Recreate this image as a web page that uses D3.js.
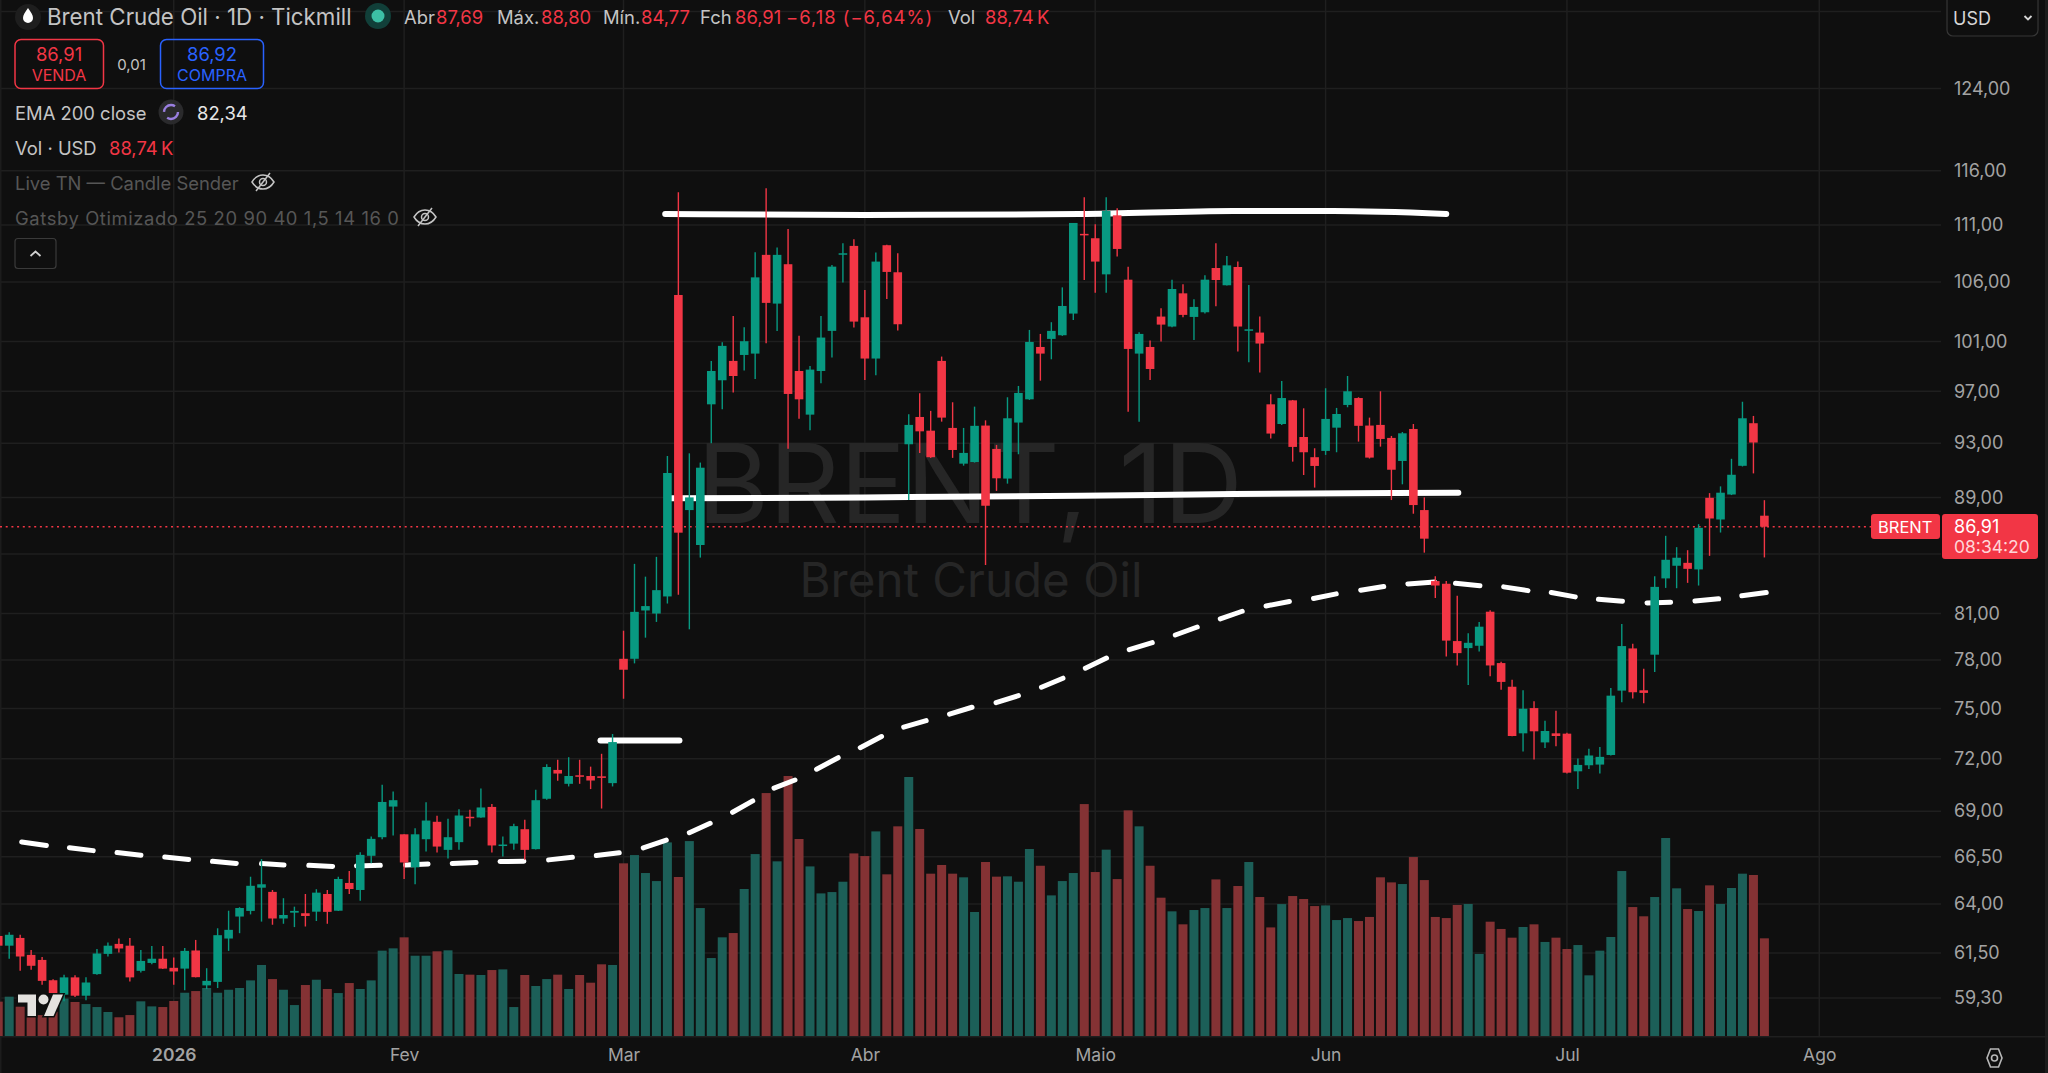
<!DOCTYPE html>
<html>
<head>
<meta charset="utf-8">
<title>Brent Crude Oil 1D</title>
<script src="https://cdn.jsdelivr.net/npm/d3@7"></script>
<style>
  html, body { margin: 0; padding: 0; background: #0f0f0f; overflow: hidden; }
  svg { display: block; font-family: Inter, "Noto Sans", sans-serif; }
</style>
</head>
<body>
<div id="chart"></div>
<script>
// daily bars, first one sits half off the left edge (bar number -1)
const open = [62.36,61.87,62.26,61.41,61.16,60.16,59.46,60.30,59.41,60.46,
  61.46,61.96,61.87,60.62,61.01,61.22,60.77,60.73,61.63,59.91,
  60.08,62.23,63.35,63.64,64.85,64.63,63.25,63.55,63.52,63.60,
  64.52,63.65,65.10,64.73,66.55,67.56,69.26,67.72,65.93,67.45,
  68.41,66.87,67.29,68.69,68.65,69.24,67.11,67.21,68.00,66.91,
  69.70,71.35,70.55,71.04,71.00,70.98,70.59,78.08,78.08,81.20,
  81.00,82.13,104.88,88.09,85.63,95.98,97.87,99.42,99.90,100.01,
  108.35,104.15,107.53,98.61,95.18,98.61,101.87,108.37,109.14,103.00,
  99.61,109.20,106.83,92.92,95.00,93.95,99.42,94.16,91.47,91.59,
  94.34,92.57,90.37,94.57,96.37,100.55,101.21,101.51,103.31,110.21,
  109.82,106.65,111.88,106.19,100.01,100.55,103.06,102.23,105.02,103.03,
  103.42,107.20,105.71,107.29,101.92,101.73,95.98,94.46,96.29,93.47,
  91.95,92.42,94.18,95.93,96.47,94.34,94.39,93.40,91.67,94.08,
  88.09,83.16,82.98,79.21,78.76,78.91,81.12,77.81,76.33,73.50,
  75.02,72.96,73.50,73.48,71.27,71.62,71.66,72.22,76.09,78.74,
  76.11,78.34,83.34,84.20,84.40,83.95,88.97,87.42,89.21,91.31,
  94.52,87.69];
const high = [62.60,62.55,62.42,61.66,61.30,60.21,60.43,60.41,60.31,61.71,
  62.03,62.23,62.26,61.66,61.86,61.86,61.28,61.76,62.16,60.75,
  62.75,63.65,63.83,65.43,66.37,64.73,64.30,63.86,64.52,64.77,
  64.73,65.43,65.74,66.74,67.60,70.49,70.11,67.72,68.06,69.51,
  68.75,68.58,69.11,69.08,70.29,69.41,67.60,68.30,68.53,70.21,
  71.68,71.94,72.09,71.94,71.54,72.29,73.46,79.88,84.33,83.46,
  84.81,92.04,114.00,92.24,91.55,99.42,100.94,103.11,102.17,108.58,
  114.37,108.99,110.65,101.46,99.01,103.11,107.47,109.38,109.73,105.31,
  108.55,109.25,108.49,95.21,96.84,95.47,99.77,96.14,94.16,95.80,
  94.74,92.87,96.53,97.42,101.95,101.62,102.59,105.53,111.19,113.53,
  111.07,113.53,112.52,107.32,101.75,101.07,103.76,106.19,105.79,104.51,
  106.57,109.38,108.26,107.76,105.73,103.06,96.76,97.82,96.32,95.67,
  92.62,97.24,95.70,98.21,96.53,94.95,97.00,93.55,93.85,94.46,
  89.00,83.48,83.16,82.17,79.72,80.44,81.21,77.89,76.77,76.11,
  75.43,74.26,74.86,73.54,72.01,72.59,72.69,76.25,80.31,79.04,
  77.45,83.48,86.27,85.48,85.27,87.09,89.31,89.80,91.83,96.18,
  95.08,88.80];
const low = [61.50,61.22,60.63,60.67,59.94,59.14,59.14,59.35,59.19,60.43,
  61.33,61.53,60.10,60.54,60.94,60.71,59.94,59.67,60.30,59.73,
  59.78,61.61,62.50,63.46,63.09,62.93,62.98,62.81,62.84,63.12,
  62.98,63.64,64.52,64.17,66.15,67.45,67.65,65.31,65.03,66.78,
  66.73,66.40,66.87,68.15,68.63,66.73,66.51,66.87,66.33,66.89,
  69.64,70.72,70.40,70.55,70.25,69.15,70.40,75.59,77.79,79.43,
  80.45,81.66,82.24,79.97,84.76,93.00,95.59,96.90,98.64,97.97,
  100.86,101.87,92.59,94.87,93.98,97.63,99.69,105.94,102.15,97.90,
  98.27,104.54,101.90,88.81,92.27,91.90,94.64,91.90,91.32,91.55,
  84.25,89.47,90.00,92.17,96.32,97.84,99.55,101.46,102.78,106.16,
  105.08,105.06,108.20,95.41,94.64,97.90,100.99,102.17,103.00,101.13,
  103.31,103.92,105.68,100.18,99.31,98.48,93.35,94.39,91.62,90.63,
  89.71,92.12,92.32,95.75,93.12,91.85,92.74,88.81,89.95,87.83,
  85.10,82.02,78.23,77.66,76.44,78.55,76.98,76.15,73.32,72.42,
  71.95,72.63,72.73,71.15,70.26,71.41,71.15,72.19,75.37,75.60,
  75.32,77.25,82.70,82.68,83.04,82.86,84.88,86.50,89.17,91.26,
  90.75,84.77];
const close = [61.87,62.42,61.33,60.87,60.13,59.54,60.30,59.41,60.05,61.48,
  61.87,61.73,60.30,61.11,61.22,60.73,60.59,61.61,60.31,60.13,
  62.40,62.67,63.79,64.95,65.03,63.25,63.43,63.64,63.38,64.59,
  63.59,65.31,64.78,66.60,67.47,69.52,69.62,66.19,67.72,68.48,
  67.05,67.56,68.76,68.61,69.21,67.11,67.16,68.17,66.87,69.62,
  71.52,71.14,71.00,70.98,70.74,70.89,72.98,77.39,81.11,81.49,
  82.55,90.78,86.49,89.00,91.17,98.61,100.64,98.21,101.02,106.39,
  104.21,108.35,96.79,96.37,98.72,101.32,107.32,108.49,102.64,99.61,
  107.76,106.86,102.42,94.39,93.90,91.95,94.95,92.49,92.27,94.32,
  88.40,90.39,94.90,96.87,100.96,100.01,101.87,103.95,111.19,110.09,
  107.76,112.28,108.87,100.39,101.62,98.77,102.39,105.39,103.20,103.87,
  106.19,106.16,107.43,102.23,102.00,100.83,93.73,96.47,92.72,92.32,
  91.30,94.85,95.23,97.00,94.32,91.92,93.32,91.02,93.75,88.45,
  86.07,82.86,79.24,78.44,79.10,80.14,77.66,76.63,73.34,74.98,
  73.62,73.64,73.34,71.19,71.64,72.19,72.11,75.78,78.89,75.99,
  75.95,82.77,84.61,84.75,83.99,86.83,87.49,89.34,90.65,94.90,
  93.05,86.91];
const volume = [31.2,35.7,26.6,20.0,19.0,22.0,34.0,30.9,29.0,26.3,
  21.8,17.0,19.0,31.5,26.9,26.3,31.8,39.3,40.8,43.6,
  39.3,42.0,43.6,50.5,64.5,51.7,42.0,28.1,46.3,51.1,
  42.7,39.0,48.1,42.7,50.5,77.5,79.6,89.6,72.9,72.9,
  76.9,77.8,56.3,55.7,55.4,59.9,60.5,26.3,55.4,45.4,
  51.7,55.7,42.7,55.4,48.4,65.1,64.5,156.8,164.3,148.0,
  140.7,175.8,144.4,177.0,116.2,70.8,89.6,93.5,133.5,165.2,
  220.6,158.6,236.1,178.9,154.0,129.5,130.7,140.1,165.8,163.4,
  185.8,146.8,190.4,235.2,188.0,147.4,155.3,147.4,144.1,112.6,
  158.0,144.7,145.0,140.1,169.8,154.6,127.7,140.7,148.0,210.6,
  148.9,169.2,142.5,204.9,190.4,154.6,125.6,113.2,101.4,114.4,
  116.2,142.2,116.2,136.2,158.0,126.2,98.6,119.8,127.1,124.4,
  118.0,118.6,105.3,107.1,104.4,108.1,144.1,139.5,138.0,162.5,
  141.6,108.1,107.1,119.0,119.9,74.5,103.8,97.2,89.3,99.0,
  101.4,85.4,89.3,79.0,82.6,55.1,77.5,89.9,149.8,117.1,
  108.7,126.2,179.8,134.1,115.3,113.5,136.8,119.9,134.4,147.4,
  146.2,88.7];

// EMA 200, read at the ends of each dash of the drawn line
const emaBar = [1.14,3.39,5.49,7.66,9.83,12.01,14.18,16.36,18.53,20.7,23.0,25.05,27.31,29.48,31.66,33.83,
  36.13,38.18,40.39,42.56,44.74,46.92,49.17,51.34,53.52,55.61,57.8,59.9,62.0,63.9,65.94,67.78,
  69.72,71.63,73.6,75.57,77.58,79.52,81.54,83.59,85.72,87.77,89.96,92.0,94.1,96.06,98.1,100.03,
  102.1,104.2,106.3,108.3,110.4,112.4,114.57,116.7,118.9,120.97,123.2,125.3,127.5,129.94,131.84,134.07,
  136.23,138.45,140.57,142.76,144.87,147.06,149.3,151.45,153.67,155.83,157.94,160.17];
const emaVal = [67.30,67.11,66.99,66.83,66.73,66.58,66.49,66.35,66.25,66.14,66.13,66.05,66.04,65.98,66.00,66.04,
  66.05,66.11,66.13,66.19,66.24,66.26,66.33,66.47,66.56,66.71,66.98,67.40,67.81,68.33,68.94,69.58,
  70.30,70.77,71.39,72.06,72.65,73.31,73.87,74.26,74.65,75.07,75.35,75.78,76.30,76.86,77.49,78.13,
  78.66,79.11,79.60,80.12,80.65,81.15,81.50,81.79,81.99,82.30,82.55,82.79,82.97,83.09,83.01,82.85,
  82.77,82.52,82.39,82.10,81.95,81.81,81.70,81.75,81.83,81.97,82.17,82.39];

// hand drawn white lines on the chart
const topLineBar = [59.8,78,97.6,111.6,120.7,131];
const topLineVal = [112.01,111.92,111.99,112.27,112.27,112.01];
const midLineBar = [60.4,78,97.6,111.6,132.1];
const midLineVal = [88.93,89.00,89.12,89.24,89.34];
const shortLineBar = [53.9,61.1];
const shortLineVal = [73.07,73.07];

const gridPrices = [132,124,116,111,106,101,97,93,89,85,81,78,75,72,69,66.5,64,61.5,59.3];
const priceTicks = [124,116,111,106,101,97,93,89,81,78,75,72,69,66.5,64,61.5,59.3];
const monthBars = [15,36,56,78,99,120,142,165];
const monthLabels = ['2026','Fev','Mar','Abr','Maio','Jun','Jul','Ago'];
const lastPrice = 86.91;

const w = 2048, h = 1073, plotW = 1941, plotH = 1036;
const bg = '#0f0f0f', up = '#089981', down = '#f23645', grid = '#1f1f1f';

const x = d3.scaleLinear().domain([-1, 165]).range([-1.77, 1819.25]);
const y = d3.scaleLog().domain([133.23, 57.5]).range([0, plotH]);
const yVol = d3.scaleLinear().domain([0, 236.1]).range([plotH, 776]);

const svg = d3.select('#chart').append('svg').attr('width', w).attr('height', h);
svg.append('rect').attr('width', w).attr('height', h).attr('fill', bg);

// grid
svg.append('g').selectAll('line').data(gridPrices).enter().append('line')
  .attr('x1', 0).attr('x2', plotW)
  .attr('y1', d => y(d)).attr('y2', d => y(d))
  .attr('stroke', grid).attr('stroke-width', 1.5);
svg.append('g').selectAll('line').data(monthBars).enter().append('line')
  .attr('x1', d => x(d)).attr('x2', d => x(d))
  .attr('y1', 0).attr('y2', plotH)
  .attr('stroke', grid).attr('stroke-width', 1.5);
svg.append('rect').attr('x', 0).attr('y', 0).attr('width', 1.5).attr('height', h).attr('fill', '#1c1c1c');
svg.append('rect').attr('x', 2045).attr('y', 0).attr('width', 3).attr('height', h).attr('fill', '#1c1c1c');
svg.append('rect').attr('x', 0).attr('y', plotH).attr('width', plotW + 107).attr('height', 1.5).attr('fill', '#1f1f1f');

// watermark
svg.append('text').attr('x', 970).attr('y', 523).attr('text-anchor', 'middle')
  .attr('font-size', 110).attr('fill', '#262626').text('BRENT, 1D');
svg.append('text').attr('x', 971).attr('y', 597).attr('text-anchor', 'middle')
  .attr('font-size', 47.5).attr('fill', '#262626').text('Brent Crude Oil');

const isUp = i => close[i] >= open[i];
const idx = d3.range(open.length);
const bar = i => x(i - 1);

// volume
svg.append('g').selectAll('rect').data(idx).enter().append('rect')
  .attr('x', i => bar(i) - 4.5)
  .attr('width', 9)
  .attr('y', i => yVol(volume[i]))
  .attr('height', i => plotH - yVol(volume[i]))
  .attr('fill', i => isUp(i) ? '#1c5f58' : '#843234');

// white lines go under the candles
const hand = (bars, vals) => {
  const line = d3.line().x(d => x(d[0])).y(d => y(d[1])).curve(d3.curveMonotoneX);
  svg.append('path').attr('d', line(d3.zip(bars, vals)))
    .attr('fill', 'none').attr('stroke', '#fff').attr('stroke-width', 6).attr('stroke-linecap', 'round');
};
hand(topLineBar, topLineVal);
hand(midLineBar, midLineVal);
hand(shortLineBar, shortLineVal);

// EMA dashes
const emaLine = d3.line().x(d => x(d[0])).y(d => y(d[1]));
const emaPts = d3.zip(emaBar, emaVal);
const dashes = d3.range(0, emaPts.length, 2).map(k => [emaPts[k], emaPts[k + 1]]);
svg.append('g').selectAll('path').data(dashes).enter().append('path')
  .attr('d', emaLine).attr('fill', 'none').attr('stroke', '#fff')
  .attr('stroke-width', 5).attr('stroke-linecap', 'round');

// last price dotted line
svg.append('line').attr('x1', 0).attr('x2', 1871).attr('y1', y(lastPrice)).attr('y2', y(lastPrice))
  .attr('stroke', down).attr('stroke-width', 1.4).attr('stroke-dasharray', '2 3.7');

// candles
const candles = svg.append('g');
candles.selectAll('line').data(idx).enter().append('line')
  .attr('x1', bar).attr('x2', bar)
  .attr('y1', i => y(high[i])).attr('y2', i => y(low[i]))
  .attr('stroke', i => isUp(i) ? up : down).attr('stroke-width', 1.4);
candles.selectAll('rect').data(idx).enter().append('rect')
  .attr('x', i => bar(i) - 4.3)
  .attr('width', 8.6)
  .attr('y', i => y(Math.max(open[i], close[i])))
  .attr('height', i => Math.max(1.5, Math.abs(y(open[i]) - y(close[i]))))
  .attr('fill', i => isUp(i) ? up : down);

// axes
const yAxis = d3.axisRight(y).tickValues(priceTicks).tickSize(0).tickPadding(13)
  .tickFormat(d => d3.format('.2f')(d).replace('.', ','));
const gy = svg.append('g').attr('transform', 'translate(' + plotW + ',0)').call(yAxis);
gy.select('.domain').remove();
gy.selectAll('text').attr('font-family', 'Inter').attr('font-size', 18).attr('fill', '#a3a3a3');

const xAxis = d3.axisBottom(x).tickValues(monthBars).tickSize(0).tickPadding(13)
  .tickFormat((d, i) => monthLabels[i]);
const gx = svg.append('g').attr('transform', 'translate(0,' + plotH + ')').call(xAxis);
gx.select('.domain').remove();
gx.selectAll('text').attr('font-family', 'Inter').attr('font-size', 17.5).attr('fill', '#a3a3a3');
gx.selectAll('text').filter((d, i) => i === 0).attr('font-weight', 600);

// text helper
const label = (t, px, py, size, color, anchor) => svg.append('text')
  .attr('x', px).attr('y', py).attr('font-size', size).attr('fill', color)
  .attr('dominant-baseline', 'central').attr('text-anchor', anchor || 'start').text(t);

// price tags
svg.append('rect').attr('x', 1871).attr('y', 514).attr('width', 69).attr('height', 25).attr('rx', 3).attr('fill', down);
svg.append('rect').attr('x', 1942).attr('y', 514).attr('width', 96).attr('height', 45).attr('rx', 3).attr('fill', down);
label('BRENT', 1878, 526.5, 16.5, '#fff');
label('86,91', 1954, 526, 18, '#fff');
label('08:34:20', 1954, 546, 17.5, '#ffd5d8');

// USD dropdown
svg.append('rect').attr('x', 1947).attr('y', -8).attr('width', 91).attr('height', 44).attr('rx', 6)
  .attr('fill', bg).attr('stroke', '#363636').attr('stroke-width', 1.2);
label('USD', 1953, 18, 18, '#d6d6d6');
svg.append('path').attr('d', 'M2024.5 16l3.5 3.5 3.5-3.5').attr('fill', 'none').attr('stroke', '#d6d6d6').attr('stroke-width', 1.8);

// settings icon
svg.append('path').attr('d', 'M1987 1058l3.5-9h8l3.5 9-3.5 9h-8z').attr('fill', 'none').attr('stroke', '#b8b8b8').attr('stroke-width', 1.6);
svg.append('circle').attr('cx', 1994.5).attr('cy', 1058).attr('r', 3).attr('fill', 'none').attr('stroke', '#b8b8b8').attr('stroke-width', 1.6);

// legend, top left
const grey = '#c4c4c4', red = '#f23645';
svg.append('circle').attr('cx', 28).attr('cy', 17).attr('r', 13).attr('fill', '#1e1e1e');
svg.append('path').attr('d', 'M28 8c3 4.500 5 7 5 10a5 5 0 0 1-10 0c0-3 2-5.500 5-10z').attr('fill', '#fff');
label('Brent Crude Oil · 1D · Tickmill', 47, 16.5, 22.3, grey);
svg.append('circle').attr('cx', 378).attr('cy', 16).attr('r', 13).attr('fill', '#113f39');
svg.append('circle').attr('cx', 378).attr('cy', 16).attr('r', 6.5).attr('fill', '#3cbfa5');

const ohlcLabels = ['Abr', 'Máx.', 'Mín.', 'Fch'];
const ohlcLabelX = [404, 497, 603, 700];
const ohlcValues = ['87,69', '88,80', '84,77', '86,91'];
const ohlcValueX = [436, 541, 641, 735];
ohlcLabels.forEach((t, i) => {
  label(t, ohlcLabelX[i], 16.5, 18.4, grey);
  label(ohlcValues[i], ohlcValueX[i], 16.5, 18.4, red);
});
label('−6,18 (−6,64%)', 786, 16.5, 18.4, red).attr('letter-spacing', 1);
label('Vol', 948, 16.5, 18.4, grey);
label('88,74\u2009K', 985, 16.5, 18.4, red);

svg.append('rect').attr('x', 15).attr('y', 39.5).attr('width', 88.500).attr('height', 49).attr('rx', 6)
  .attr('fill', 'none').attr('stroke', red).attr('stroke-width', 1.5);
label('86,91', 59, 54, 18.4, red, 'middle');
label('VENDA', 59, 74.5, 16, red, 'middle');
label('0,01', 131.5, 64, 15, grey, 'middle');
svg.append('rect').attr('x', 160.500).attr('y', 39.5).attr('width', 103).attr('height', 49).attr('rx', 6)
  .attr('fill', 'none').attr('stroke', '#2962ff').attr('stroke-width', 1.5);
label('86,92', 212, 54, 18.4, '#2962ff', 'middle');
label('COMPRA', 212, 74.5, 16, '#2962ff', 'middle');

label('EMA 200 close', 15, 113, 18.4, grey);
svg.append('circle').attr('cx', 171).attr('cy', 112).attr('r', 12.5).attr('fill', '#2a2a2c');
svg.append('circle').attr('cx', 171).attr('cy', 112).attr('r', 7).attr('fill', 'none')
  .attr('stroke', '#9a7fe0').attr('stroke-width', 2.4).attr('stroke-dasharray', '15 7');
label('82,34', 197, 113, 18.4, '#e6e6e6');
label('Vol · USD', 15, 147.5, 18.4, grey);
label('88,74\u2009K', 109, 147.5, 18.4, red);
label('Live TN — Candle Sender', 15, 182.5, 18.4, '#565656');
label('Gatsby Otimizado 25 20 90 40 1,5 14 16 0', 15, 217.5, 18.4, '#565656').attr('letter-spacing', 0.6);

// crossed eye icons for the hidden scripts
[[263, 182], [425, 217]].forEach(p => {
  const g = svg.append('g').attr('transform', 'translate(' + p[0] + ',' + p[1] + ')')
    .attr('fill', 'none').attr('stroke', '#c4c4c4').attr('stroke-width', 1.5);
  g.append('path').attr('d', 'M-11 0c3-5 7-7 11-7s8 2 11 7c-3 5-7 7-11 7s-8-2-11-7z');
  g.append('circle').attr('r', 3.5);
  g.append('path').attr('d', 'M-7 9L7-9');
});

// collapse button
svg.append('rect').attr('x', 15).attr('y', 238.500).attr('width', 41).attr('height', 30).attr('rx', 3)
  .attr('fill', bg).attr('stroke', '#3a3a3a').attr('stroke-width', 1.2);
svg.append('path').attr('d', 'M30.500 256l5-4.500 5 4.500').attr('fill', 'none').attr('stroke', '#d0d0d0').attr('stroke-width', 1.8);

// TV logo
const logo = svg.append('g').attr('fill', '#e4e2df').attr('stroke', '#0f0f0f').attr('stroke-width', 3).attr('paint-order', 'stroke');
logo.append('path').attr('d', 'M18 994.500h18v21.500h-8.500v-13.500h-9.500z');
logo.append('circle').attr('cx', 43.500).attr('cy', 999.500).attr('r', 5);
logo.append('path').attr('d', 'M53 994.500h10l-9.500 21.500h-9.500z');
</script>
</body>
</html>
